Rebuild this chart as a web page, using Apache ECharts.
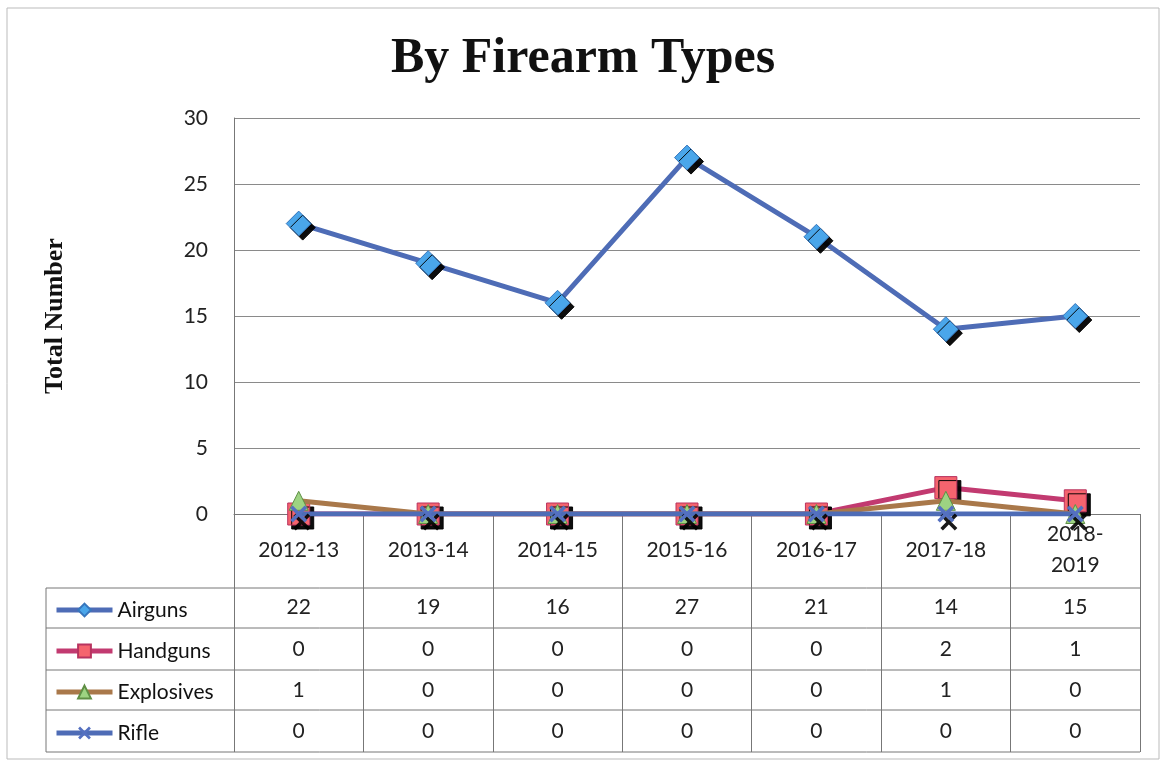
<!DOCTYPE html>
<html>
<head>
<meta charset="utf-8">
<script src="https://cdn.jsdelivr.net/npm/echarts@6/dist/echarts.min.js"></script>
<style>
html,body{margin:0;padding:0;background:#fff;}
#main{width:1166px;height:765px;}
</style>
</head>
<body>
<div id="main"></div>
<script>
var categories = ['2012-13','2013-14','2014-15','2015-16','2016-17','2017-18','2018-2019'];
var seriesNames = ['Airguns','Handguns','Explosives','Rifle'];
var airguns = [22,19,16,27,21,14,15];
var handguns = [0,0,0,0,0,2,1];
var explosives = [1,0,0,0,0,1,0];
var rifle = [0,0,0,0,0,0,0];
var yTicks = [0,5,10,15,20,25,30];

var tableValues = [airguns, handguns, explosives, rifle];
var FONT = 'Lato, "Open Sans", sans-serif';
var chart = echarts.init(document.getElementById('main'));

var xShape = 'path://M0,1.5L1.5,0L5,3.5L8.5,0L10,1.5L6.5,5L10,8.5L8.5,10L5,6.5L1.5,10L0,8.5L3.5,5Z';
var shadow = {shadowColor:'rgba(0,0,0,0.95)', shadowOffsetX:4, shadowOffsetY:4, shadowBlur:0};

var option = {
  animation:false,
  backgroundColor:'#fff',
  title:{text:'By Firearm Types', left:'center', top:29,
    textStyle:{fontFamily:'"Liberation Serif", serif', fontWeight:'bold', fontSize:50, color:'#111'}},
  grid:{left:234, right:26, top:118, bottom:251},
  legend:{orient:'vertical', left:49, top:593, itemWidth:56, itemHeight:16, itemGap:17,
    data:seriesNames.map(function(n){ return {name:n, lineStyle:{width:5}}; }),
    textStyle:{fontFamily:FONT, fontSize:21, color:'#111', lineHeight:24}},
  xAxis:{type:'category', data:categories, boundaryGap:true,
    axisLine:{lineStyle:{color:'#777', width:1}},
    axisTick:{show:true, length:238, interval:0, lineStyle:{color:'#777'}},
    axisLabel:{interval:0, margin:36, verticalAlign:'middle', fontFamily:FONT, fontSize:21, color:'#222', lineHeight:31,
      formatter:function(v){ return v.length>7 ? v.replace('-', '-\n') : v; }},
    splitLine:{show:false}},
  yAxis:{type:'value', min:yTicks[0], max:yTicks[yTicks.length-1], interval:yTicks[1]-yTicks[0],
    name:'Total Number', nameLocation:'middle', nameGap:166, nameRotate:90,
    nameTextStyle:{fontFamily:'"Liberation Serif", serif', fontWeight:'bold', fontSize:26, color:'#111'},
    axisLine:{show:true, lineStyle:{color:'#777'}},
    axisTick:{show:false},
    axisLabel:{margin:26, fontFamily:FONT, fontSize:21, color:'#222'},
    splitLine:{lineStyle:{color:'#8a8a8a', width:1}}},
  series:[
    {name:seriesNames[0], type:'line', data:airguns, symbol:'diamond', symbolSize:25, z:3,
      lineStyle:{color:'#4e6cb6', width:5},
      itemStyle:Object.assign({color:'#4aa6ea', borderColor:'#3776bd', borderWidth:1}, shadow)},
    {name:seriesNames[1], type:'line', data:handguns, symbol:'rect', symbolSize:22, z:4,
      lineStyle:{color:'#c23a70', width:5},
      itemStyle:Object.assign({color:'#f5646e', borderColor:'#b8335f', borderWidth:1}, shadow)},
    {name:seriesNames[2], type:'line', data:explosives, symbol:'triangle', symbolSize:19, z:5,
      lineStyle:{color:'#a9784a', width:5},
      itemStyle:{color:'#9dd382', borderColor:'#5f8f45', borderWidth:1}},
    {name:seriesNames[3], type:'line', data:rifle, symbol:xShape, symbolSize:17, z:6,
      lineStyle:{color:'#4e6cb6', width:5},
      itemStyle:Object.assign({color:'#5470c0'}, {shadowColor:'rgba(0,0,0,0.9)', shadowOffsetX:3, shadowOffsetY:8, shadowBlur:0})}
  ]
};
chart.setOption(option);

// Data table drawn from arrays
var rowCenters = [607, 649, 690, 731];
var rowLines = [588, 628, 670, 710, 752];
var tableLeft = 46, tableRight = 1140;
var g = [];
rowLines.forEach(function(y){
  g.push({type:'line', shape:{x1:tableLeft, y1:y, x2:tableRight, y2:y}, style:{stroke:'#777', lineWidth:1}});
});
g.push({type:'line', shape:{x1:tableLeft, y1:rowLines[0], x2:tableLeft, y2:rowLines[rowLines.length-1]}, style:{stroke:'#777', lineWidth:1}});
tableValues.forEach(function(arr, r){
  arr.forEach(function(v, c){
    var px = chart.convertToPixel({xAxisIndex:0}, categories[c]);
    g.push({type:'text', x:px, y:rowCenters[r], style:{text:String(v), fontFamily:FONT, fontSize:21, fill:'#222', align:'center', verticalAlign:'middle'}});
  });
});
g.push({type:'rect', shape:{x:7, y:8, width:1152, height:751}, style:{fill:'none', stroke:'#bbb', lineWidth:1}, z:-1});
chart.setOption({graphic:g});
</script>
</body>
</html>
